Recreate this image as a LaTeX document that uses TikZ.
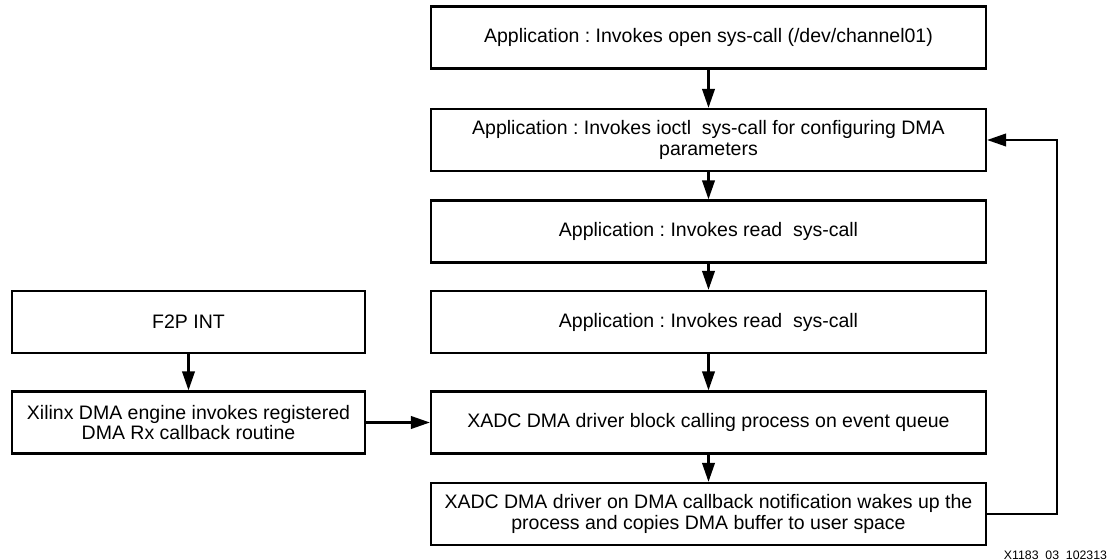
\documentclass[tikz,border=0pt]{standalone}
\usepackage{fontspec}
\setmainfont{Liberation Sans}
\usetikzlibrary{arrows.meta}
\frenchspacing
\begin{document}
\begin{tikzpicture}[x=0.02cm,y=-0.02cm,line width=1.3pt,>={Triangle[length=0.38cm,width=0.25cm]},
  font=\fontsize{11.1}{11.8}\selectfont,
  appbox/.style={draw,rectangle,minimum width=11.1cm,minimum height=1.24cm,align=center,inner sep=0pt},
  sidebox/.style={draw,rectangle,minimum width=7.06cm,minimum height=1.24cm,align=center,inner sep=0pt}]
\useasboundingbox (0,0) rectangle (1120,560);
% right column
\node[appbox] (open) at (708.5,37.5) {Application : Invokes open sys-call (/dev/channel01)};
\node[appbox] (ioctl) at (708.5,140) {Application : Invokes ioctl~ sys-call for configuring DMA\\parameters};
\node[appbox] (readA) at (708.5,231.5) {Application : Invokes read~ sys-call};
\node[appbox] (readB) at (708.5,322) {Application : Invokes read~ sys-call};
\node[appbox] (block) at (708.5,422.5) {XADC DMA driver block calling process on event queue};
\node[appbox] (wake) at (708.5,514) {XADC DMA driver on DMA callback notification wakes up the\\process and copies DMA buffer to user space};
% left column
\node[sidebox] (int) at (188.5,322) {F2P INT};
\node[sidebox] (cb) at (188.5,422.5) {Xilinx DMA engine invokes registered\\DMA Rx callback routine};
\coordinate (loop) at (1057,0);
\draw[->] (open)--(ioctl);
\draw[->] (ioctl)--(readA);
\draw[->] (readA)--(readB);
\draw[->] (readB)--(block);
\draw[->] (block)--(wake);
\draw[->] (int)--(cb);
\draw[->] (cb)--(block);
\draw[->] (wake.east)--(wake.east-|loop)--(ioctl.east-|loop)--(ioctl.east);
\node[anchor=east,font=\fontsize{7}{8}\selectfont] (tag) at (1114,555) {X1183~ 03~ 102313};
\end{tikzpicture}
\end{document}
